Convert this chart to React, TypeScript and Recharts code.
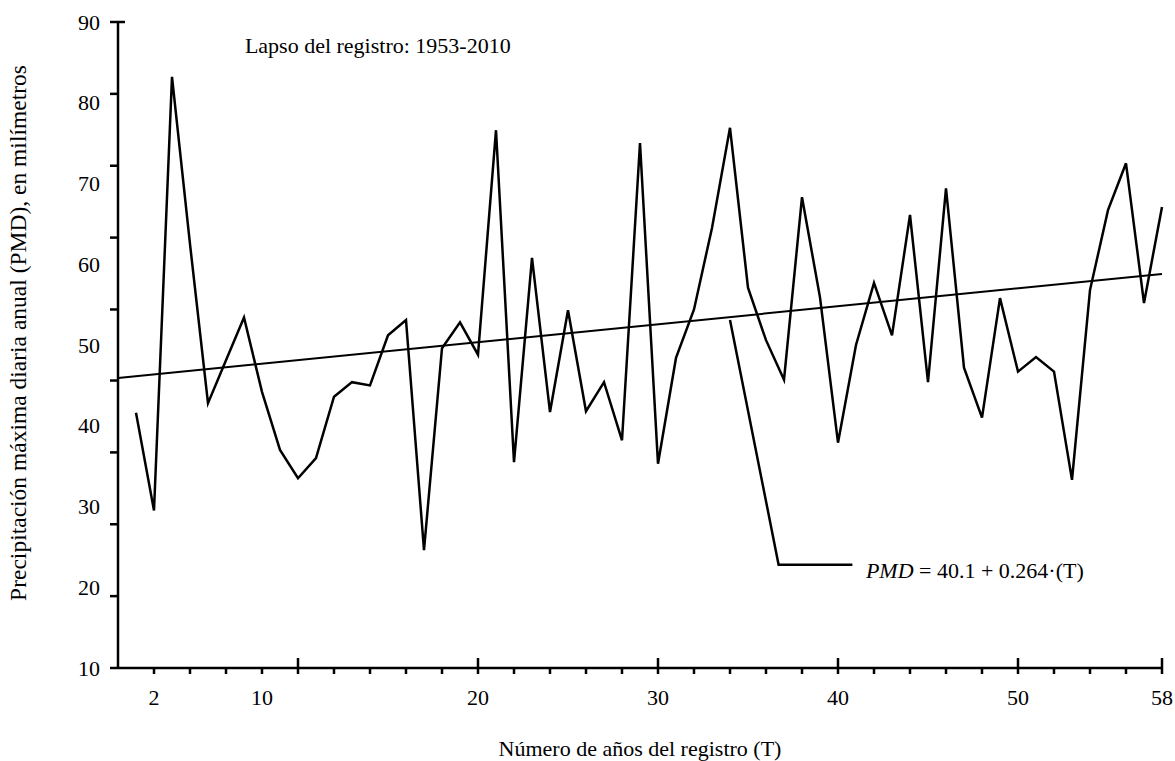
import React from 'react';
import { LineChart, Line, XAxis, YAxis, ReferenceDot } from 'recharts';

const FONT = '"Liberation Serif", "Times New Roman", serif';

// número de años del registro (T), 1953-2010
const T = [
  1, 2, 3, 4, 5, 6, 7, 8, 9, 10, 11, 12, 13, 14, 15, 16, 17, 18, 19, 20,
  21, 22, 23, 24, 25, 26, 27, 28, 29, 30, 31, 32, 33, 34, 35, 36, 37, 38, 39, 40,
  41, 42, 43, 44, 45, 46, 47, 48, 49, 50, 51, 52, 53, 54, 55, 56, 57, 58,
];

// precipitación máxima diaria anual, mm
const PMD = [
  41.6, 29.5, 83.2, 62.5, 42.8, 48.1, 53.4, 44.2, 37.0, 33.5,
  36.0, 43.6, 45.4, 45.0, 51.2, 53.1, 24.6, 49.6, 52.8, 48.8,
  76.6, 35.5, 60.8, 41.7, 54.3, 41.8, 45.4, 38.2, 75.0, 35.3,
  48.4, 54.4, 64.5, 76.9, 57.1, 50.6, 45.7, 68.3, 55.9, 37.9,
  50.0, 57.7, 51.2, 66.1, 45.4, 69.4, 47.2, 41.0, 55.8, 46.7,
  48.5, 46.7, 33.3, 56.8, 66.7, 72.5, 55.2, 67.1,
];

// recta de tendencia (extremos)
const TREND_T = [0, 58];
const TREND_V = [45.9, 58.8];

// línea guía hacia la ecuación
const LEADER_T = [34.0, 36.7, 40.8];
const LEADER_V = [53.1, 22.8, 22.8];

const X_TICKS = [2, 4, 6, 8, 10, 12, 14, 16, 18, 20, 22, 24, 26, 28, 30, 32, 34, 36, 38, 40, 42, 44, 46, 48, 50, 52, 54, 56, 58];
const X_MAJOR = [10, 20, 30, 40, 50, 58];
const X_LABELS: { [k: number]: string } = { 2: '2', 8: '10', 20: '20', 30: '30', 40: '40', 50: '50', 58: '58' };

// the y labels and the y tick marks of the original do not line up
const Y_LABELS = [10, 20, 30, 40, 50, 60, 70, 80, 90];
const Y_MARKS = [10, 18.9, 27.8, 36.7, 45.6, 54.4, 63.3, 72.2, 81.1, 90];
const Y_TICKS = Array.from(new Set([...Y_LABELS, ...Y_MARKS])).sort((a, b) => a - b);

const series = T.map((t, i) => ({ t, v: PMD[i] }));
const trend = TREND_T.map((t, i) => ({ t, v: TREND_V[i] }));
const leader = LEADER_T.map((t, i) => ({ t, v: LEADER_V[i] }));

const XTick = (props: any) => {
  const { x, y, payload } = props;
  const val = payload.value;
  const major = X_MAJOR.includes(val);
  const label = X_LABELS[val];
  return (
    <g>
      <line x1={x} x2={x} y1={major ? y - 10 : y} y2={y + 6} stroke="#000" strokeWidth={2.5} />
      {label && (
        <text x={x} y={y + 37} textAnchor="middle" fontSize={22} fontFamily={FONT} fill="#000">
          {label}
        </text>
      )}
    </g>
  );
};

const YTick = (props: any) => {
  const { x, y, payload } = props;
  const val = payload.value;
  return (
    <g>
      {Y_MARKS.includes(val) && (
        <line x1={x - 8} x2={val === 90 ? x + 7 : x} y1={y} y2={y} stroke="#000" strokeWidth={2.5} />
      )}
      {Y_LABELS.includes(val) && (
        <text x={x - 18} y={y + 7.5} textAnchor="end" fontSize={22} fontFamily={FONT} fill="#000">
          {val}
        </text>
      )}
    </g>
  );
};

const YTitle = (props: any) => {
  const { x, y, height } = props.viewBox;
  const cx = x + 18;
  const cy = y + height / 2 - 12;
  return (
    <text
      transform={`translate(${cx},${cy}) rotate(-90)`}
      textAnchor="middle"
      dominantBaseline="central"
      fontSize={23.5}
      fontFamily={FONT}
      fill="#000"
    >
      Precipitación máxima diaria anual (PMD), en milímetros
    </text>
  );
};

const LapsoText = (props: any) => (
  <text x={props.cx} y={props.cy + 7} fontSize={22} fontFamily={FONT} fill="#000">
    Lapso del registro: 1953-2010
  </text>
);

const EquationText = (props: any) => (
  <text x={props.cx} y={props.cy + 9} fontSize={22} fontFamily={FONT} fill="#000">
    <tspan fontStyle="italic">PMD</tspan> = 40.1 + 0.264·(T)
  </text>
);

export default function App() {
  return (
    <div style={{ width: 1175, height: 761, background: '#fff' }}>
      <style>{'body{margin:0}'}</style>
      <LineChart width={1175} height={761} margin={{ top: 22, right: 13, bottom: 0, left: 0 }}>
        <XAxis
          type="number"
          dataKey="t"
          domain={[0, 58]}
          ticks={X_TICKS}
          interval={0}
          tickLine={false}
          tickSize={0}
          tickMargin={0}
          tick={<XTick />}
          axisLine={{ stroke: '#000', strokeWidth: 2.5 }}
          height={93}
          label={{
            value: 'Número de años del registro (T)',
            position: 'insideBottom',
            offset: 5,
            style: { fontSize: 22, fontFamily: FONT, fill: '#000' },
          }}
        />
        <YAxis
          yAxisId="v"
          type="number"
          domain={[10, 90]}
          ticks={Y_TICKS}
          interval={0}
          width={118}
          tickLine={false}
          tickSize={0}
          tickMargin={0}
          tick={<YTick />}
          axisLine={{ stroke: '#000', strokeWidth: 2.5 }}
          label={<YTitle />}
        />
        <Line
          yAxisId="v"
          data={trend}
          dataKey="v"
          stroke="#000"
          strokeWidth={2}
          dot={false}
          isAnimationActive={false}
        />
        <Line
          yAxisId="v"
          data={series}
          dataKey="v"
          stroke="#000"
          strokeWidth={2.5}
          dot={false}
          isAnimationActive={false}
        />
        <Line
          yAxisId="v"
          data={leader}
          dataKey="v"
          stroke="#000"
          strokeWidth={2.5}
          dot={false}
          isAnimationActive={false}
        />
        <ReferenceDot yAxisId="v" x={7.05} y={87.0} r={0} shape={<LapsoText />} />
        <ReferenceDot yAxisId="v" x={41.55} y={22.2} r={0} shape={<EquationText />} />
      </LineChart>
    </div>
  );
}
